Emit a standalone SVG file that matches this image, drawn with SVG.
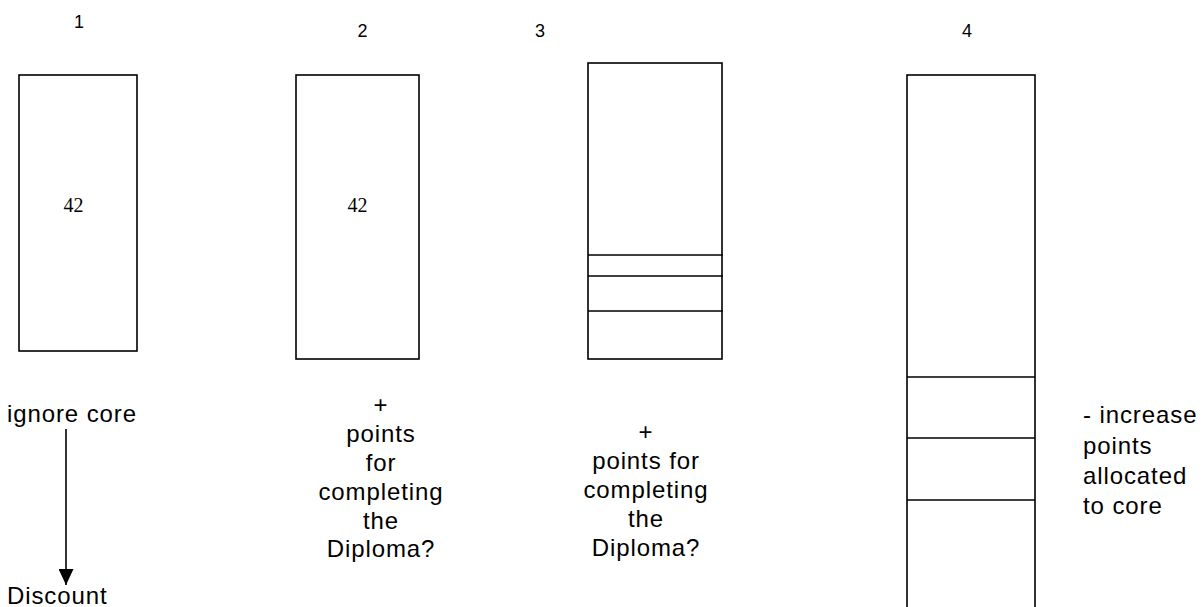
<svg xmlns="http://www.w3.org/2000/svg" width="1202" height="607" viewBox="0 0 1202 607">
<style>
.box{fill:#fff;stroke:#000;stroke-width:1.6}
.div{stroke:#000;stroke-width:1.6}
.num{font-family:"Liberation Sans",Arial,sans-serif;font-size:18px;fill:#000;text-anchor:middle}
.val{font-family:"Liberation Serif","Times New Roman",serif;font-size:20px;fill:#000;text-anchor:middle}
.lbl{font-family:"Liberation Sans",Arial,sans-serif;font-size:24px;letter-spacing:0.9px;fill:#000}
.c{text-anchor:middle}
</style>
<defs>
<marker id="arr" viewBox="0 0 16 15" refX="16" refY="7.5" markerWidth="16" markerHeight="15" markerUnits="userSpaceOnUse" orient="auto">
<path d="M0,0 L16,7.5 L0,15 Z" fill="#000"/>
</marker>
</defs>
<rect width="1202" height="607" fill="#fff"/>
<g id="col1">
<text class="num" x="79" y="28">1</text>
<rect class="box" x="19" y="75" width="118" height="276"/>
<text class="val" x="73.5" y="212">42</text>
<text class="lbl" x="7" y="422">ignore core</text>
<text class="lbl" x="7" y="604">Discount</text>
</g>
<g id="col2">
<text class="num" x="362.5" y="37">2</text>
<rect class="box" x="296" y="75" width="123" height="284"/>
<text class="val" x="357.5" y="212">42</text>
<text class="lbl c"><tspan x="381" y="413">+</tspan><tspan x="381" y="442">points</tspan><tspan x="381" y="471">for</tspan><tspan x="381" y="500">completing</tspan><tspan x="381" y="528.5">the</tspan><tspan x="381" y="557">Diploma?</tspan></text>
</g>
<g id="col3">
<text class="num" x="540" y="37">3</text>
<rect class="box" x="588" y="63" width="134" height="296"/>
<line class="div" x1="588" y1="255" x2="723" y2="255"/>
<line class="div" x1="588" y1="276" x2="723" y2="276"/>
<line class="div" x1="588" y1="311" x2="723" y2="311"/>
<text class="lbl c"><tspan x="646" y="440">+</tspan><tspan x="646" y="469">points for</tspan><tspan x="646" y="498">completing</tspan><tspan x="646" y="527">the</tspan><tspan x="646" y="556">Diploma?</tspan></text>
</g>
<g id="col4">
<text class="num" x="967" y="37">4</text>
<rect class="box" x="907" y="75" width="128" height="560"/>
<line class="div" x1="907" y1="377" x2="1035" y2="377"/>
<line class="div" x1="907" y1="438" x2="1035" y2="438"/>
<line class="div" x1="907" y1="500" x2="1035" y2="500"/>
<text class="lbl"><tspan x="1083" y="423">- increase</tspan><tspan x="1083" y="454">points</tspan><tspan x="1083" y="484">allocated</tspan><tspan x="1083" y="514">to core</tspan></text>
</g>
<g id="connectors">
<line x1="66" y1="429" x2="66" y2="585" stroke="#000" stroke-width="1.6" marker-end="url(#arr)"/>
</g>
</svg>
